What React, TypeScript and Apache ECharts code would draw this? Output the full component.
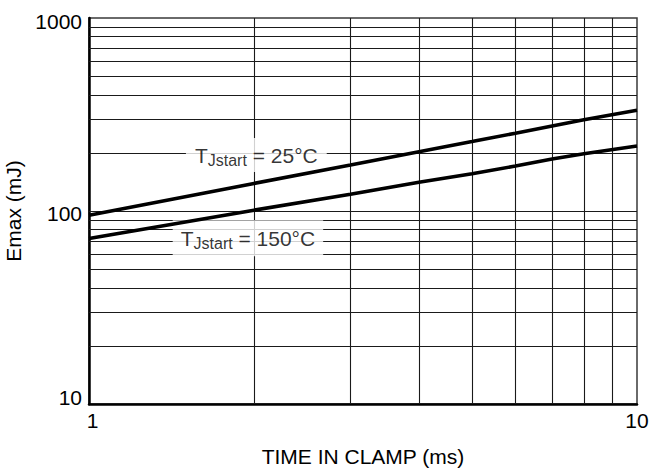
import React, { useEffect, useRef } from 'react';
import * as echarts from 'echarts';

const FONT = '"Liberation Sans", Arial, Helvetica, sans-serif';

// Axis ticks (log scales)
const xTicks = [1, 10];
const yTicks = [10, 100, 1000];

// Grid lines (log decades)
const xGridValues = [2, 3, 4, 5, 6, 7, 8, 9];
const yGridValues = [20, 30, 40, 50, 60, 70, 80, 90, 100, 200, 300, 400, 500, 600, 700, 800, 900];

// Curves: Emax (mJ) vs time in clamp (ms)
const timeMs = [1, 2, 3, 4, 5, 6, 7, 8, 10];
const emax25C = [95, 139, 173, 203, 229, 253, 276, 297, 333];
const emax150C = [72, 101, 122, 141, 156, 171, 186, 198, 217];

// Curve labels
const labelTexts = ['25°C', '150°C'];

export default function App() {
  const ref = useRef<HTMLDivElement>(null);

  useEffect(() => {
    document.body.style.margin = '0';
    const chart = echarts.init(ref.current as HTMLDivElement, null, { renderer: 'svg' });

    const gridLineStyle = { color: '#1a1a1a', width: 1.1, type: 'solid' as const };
    const labelRich = {
      t: { fontSize: 21, fontFamily: FONT, color: '#000', lineHeight: 26 },
      s: { fontSize: 16, fontFamily: FONT, color: '#000', lineHeight: 16, verticalAlign: 'bottom' as const },
    };

    const option: any = {
      animation: false,
      backgroundColor: '#fff',
      grid: {
        left: 89,
        right: 14,
        top: 18,
        bottom: 65,
        containLabel: false,
        outerBoundsMode: 'none',
        show: true,
        borderColor: '#3a3a3a',
        borderWidth: 1.5,
        backgroundColor: 'transparent',
      },
      xAxis: {
        type: 'log',
        logBase: 10,
        min: xTicks[0],
        max: xTicks[xTicks.length - 1],
        axisLine: { show: true, onZero: false, lineStyle: { color: '#000', width: 2.5 } },
        axisTick: { show: false },
        splitLine: { show: false },
        axisLabel: {
          margin: 6,
          color: '#000',
          fontSize: 21,
          fontFamily: FONT,
          formatter: (v: number) => {
            const r = Math.round(v);
            return r === xTicks[0] ? `{first|${r}}` : `{n|${r}}`;
          },
          rich: {
            first: { fontSize: 21, fontFamily: FONT, color: '#000', padding: [0, 0, 0, 7] },
            n: { fontSize: 21, fontFamily: FONT, color: '#000' },
          },
        },
        name: 'TIME IN CLAMP (ms)',
        nameLocation: 'middle',
        nameGap: 42,
        nameTextStyle: { color: '#000', fontSize: 21, fontFamily: FONT },
      },
      yAxis: {
        type: 'log',
        logBase: 10,
        min: yTicks[0],
        max: yTicks[yTicks.length - 1],
        axisLine: { show: true, onZero: false, lineStyle: { color: '#000', width: 2.5 } },
        axisTick: { show: false },
        splitLine: { show: false },
        axisLabel: {
          margin: 7,
          color: '#000',
          fontSize: 21,
          fontFamily: FONT,
          formatter: (v: number) => {
            const r = Math.round(v);
            if (r === yTicks[2]) return `{top|${r}}`;
            if (r === yTicks[1]) return `{mid|${r}}`;
            return `{bot|${r}}`;
          },
          rich: {
            top: { fontSize: 21, fontFamily: FONT, color: '#000', padding: [7, 0, 0, 0] },
            mid: { fontSize: 21, fontFamily: FONT, color: '#000', padding: [4, 0, 0, 0] },
            bot: { fontSize: 21, fontFamily: FONT, color: '#000', padding: [0, 0, 13, 0] },
          },
        },
        name: 'Emax (mJ)',
        nameLocation: 'middle',
        nameRotate: 90,
        nameGap: 55,
        nameTextStyle: { color: '#000', fontSize: 21, fontFamily: FONT },
      },
      series: [
        {
          type: 'line',
          data: [],
          silent: true,
          z: 1,
          markLine: {
            silent: true,
            z: 1,
            symbol: ['none', 'none'],
            label: { show: false },
            lineStyle: gridLineStyle,
            emphasis: { disabled: true },
            data: [
              ...xGridValues.map((v) => ({ xAxis: v })),
              ...yGridValues.map((v) => ({ yAxis: v })),
            ],
          },
        },
        {
          type: 'scatter',
          z: 2,
          silent: true,
          symbolSize: 1,
          itemStyle: { color: 'rgba(0,0,0,0)' },
          label: {
            show: true,
            position: 'inside',
            backgroundColor: '#fff',
            rich: labelRich,
          },
          data: [
            {
              value: [2.02, 195],
              label: { padding: [4, 9], formatter: `{t|T}{s|Jstart}{t| = ${labelTexts[0]}}` },
            },
            {
              value: [1.95, 72.2],
              label: { padding: [5, 8], formatter: `{t|T}{s|Jstart}{t| = ${labelTexts[1]}}` },
            },
          ],
        },
        {
          type: 'line',
          name: 'TJstart = 25°C',
          data: timeMs.map((t, i) => [t, emax25C[i]]),
          symbol: 'none',
          showSymbol: false,
          z: 3,
          lineStyle: { color: '#000', width: 3.6 },
          silent: true,
        },
        {
          type: 'line',
          name: 'TJstart = 150°C',
          data: timeMs.map((t, i) => [t, emax150C[i]]),
          symbol: 'none',
          showSymbol: false,
          z: 3,
          lineStyle: { color: '#000', width: 3.6 },
          silent: true,
        },
      ],
    };

    chart.setOption(option);
    return () => {
      chart.dispose();
    };
  }, []);

  return (
    <div
      ref={ref}
      style={{ position: 'absolute', left: 0, top: 0, width: 651, height: 469, background: '#fff' }}
    />
  );
}
